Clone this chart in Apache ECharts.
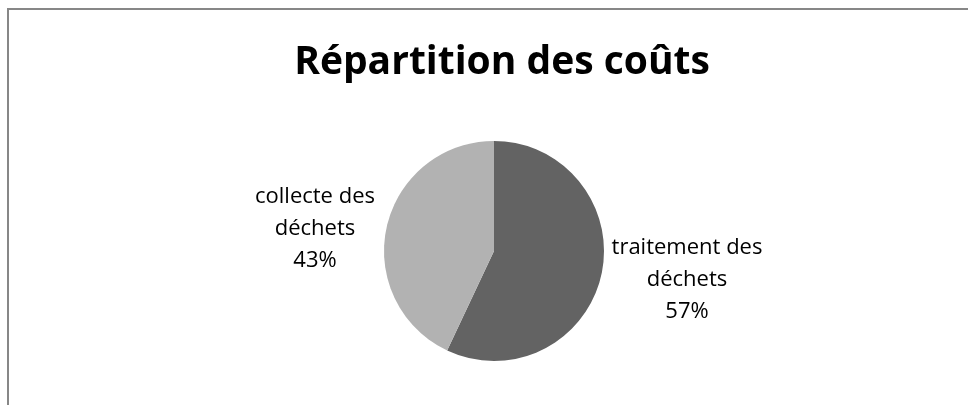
<!DOCTYPE html>
<html lang="fr">
<head>
    <meta charset="UTF-8">
    <title>Répartition des coûts</title>
    <style>
        html, body {
            width: 100%;
            height: 100%;
            margin: 0;
            padding: 0;
            background: #fff;
        }
    </style>
</head>
<body>
<div id="main" style="width: 968px;height:405px;"></div>

<script src="https://cdn.jsdelivr.net/npm/echarts@6/dist/echarts.min.js"></script>
<script>
    var titleText = 'Répartition des coûts';
    var categories = ['traitement des\ndéchets', 'collecte des\ndéchets'];
    var values = [57, 43];
    var colors = ['#636363', '#b2b2b2'];

    // label centres, one per slice
    var labelPos = [[687, 280], [315, 229]];

    var myChart = echarts.init(document.getElementById('main'));

    var pieData = values.map(function (v, i) {
        return {
            name: categories[i],
            value: v,
            itemStyle: { color: colors[i] }
        };
    });

    myChart.setOption({
        animation: false,
        title: {
            text: titleText,
            left: 497,
            top: 38,
            textAlign: 'center',
            textStyle: {
                fontFamily: 'Open Sans',
                fontWeight: 'bold',
                fontSize: 39,
                color: '#000'
            }
        },
        graphic: [{
            type: 'rect',
            shape: { x: 8, y: 9, width: 1000, height: 500 },
            style: { fill: 'none', stroke: '#878787', lineWidth: 2 },
            silent: true
        }],
        series: [{
            type: 'pie',
            center: [494, 251],
            radius: 110,
            startAngle: 90,
            clockwise: true,
            data: pieData,
            label: {
                show: true,
                position: 'outside',
                formatter: function (p) {
                    return p.name + '\n' + p.value + '%';
                },
                fontFamily: 'Open Sans',
                fontSize: 22,
                lineHeight: 32,
                color: '#000',
                align: 'center'
            },
            labelLine: { show: false },
            labelLayout: function (params) {
                var p = labelPos[params.dataIndex];
                return {
                    x: p[0],
                    y: p[1],
                    align: 'center',
                    verticalAlign: 'middle',
                    hideOverlap: false
                };
            },
            emphasis: { disabled: true }
        }]
    });
</script>
</body>
</html>
